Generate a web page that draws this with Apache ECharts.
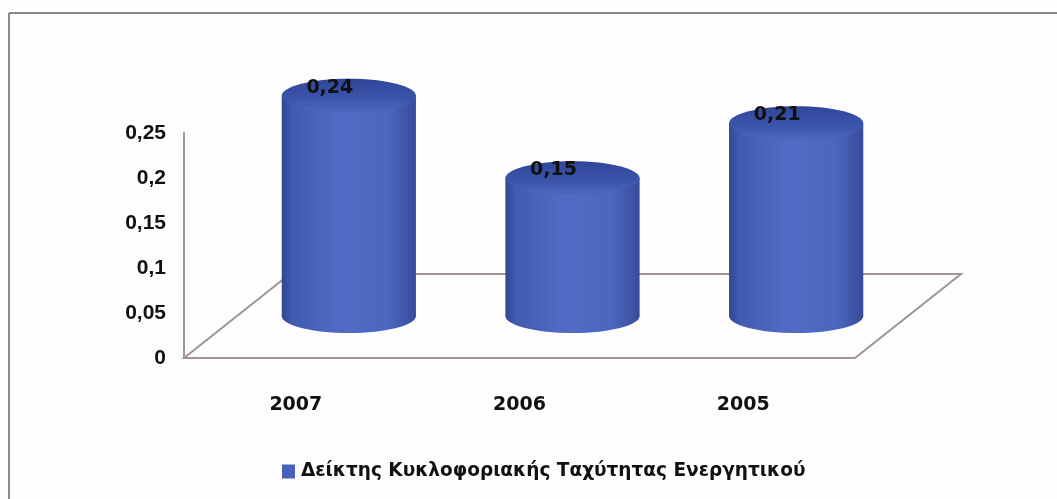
<!DOCTYPE html>
<html>
<head>
<meta charset="utf-8">
<script src="https://cdn.jsdelivr.net/npm/echarts/dist/echarts.min.js"></script>
<style>
  html, body { margin: 0; padding: 0; background: #fcfdfc; }
  #chart { width: 1057px; height: 499px; }
</style>
</head>
<body>
<div id="chart"></div>
<script>
// Asset turnover ratio by year
const years = ['2007', '2006', '2005'];
const turnover = [0.24, 0.15, 0.21];
const yTicks = [0, 0.05, 0.1, 0.15, 0.2, 0.25];
const seriesName = 'Δείκτης Κυκλοφοριακής Ταχύτητας Ενεργητικού';

// floor depth (screen offset of the back edge) and cylinder proportions
const DEPTH_X = 106, DEPTH_Y = -84;
const PERSPECTIVE = 1.02;   // mid-depth plane is slightly larger than the front plane
const BAR_RATIO = 0.6;      // cylinder diameter / category width
const ELLIPSE_RY = 17;

const comma = v => String(v).replace('.', ',');
const lineColor = '#a09494';
const wideFont = '"DejaVu Sans", Verdana, sans-serif';
const axisFont = '"Liberation Sans", Arial, sans-serif';

const chart = echarts.init(document.getElementById('chart'));

function renderFloor(params, api) {
  const cs = params.coordSys;
  const x0 = cs.x, x1 = cs.x + cs.width, yb = cs.y + cs.height;
  return {
    type: 'polygon',
    shape: { points: [[x0, yb], [x1, yb], [x1 + DEPTH_X, yb + DEPTH_Y], [x0 + DEPTH_X, yb + DEPTH_Y]] },
    style: { fill: 'rgba(255,255,255,0)', stroke: lineColor, lineWidth: 2 },
    silent: true
  };
}

function renderCylinder(params, api) {
  const idx = api.value(0);
  const val = api.value(1);
  const p0 = api.coord([idx, 0]);
  const pv = api.coord([idx, val]);
  const bw = api.size([1, 0])[0] * BAR_RATIO;
  const rx = bw / 2, ry = ELLIPSE_RY;
  const cx = p0[0] + DEPTH_X / 2;
  const botY = p0[1] + DEPTH_Y / 2;
  const topY = botY - (p0[1] - pv[1]) * PERSPECTIVE;

  const bodyFill = new echarts.graphic.LinearGradient(0, 0, 1, 0, [
    { offset: 0, color: '#33478f' },
    { offset: 0.08, color: '#425bb0' },
    { offset: 0.45, color: '#506cc4' },
    { offset: 0.8, color: '#4a66bd' },
    { offset: 1, color: '#374c9a' }
  ]);
  const topFill = new echarts.graphic.LinearGradient(0, 0, 0, 1, [
    { offset: 0, color: '#30469a' },
    { offset: 0.6, color: '#3c55ab' },
    { offset: 1, color: '#4d69c0' }
  ]);

  return {
    type: 'group',
    children: [
      { type: 'ellipse', shape: { cx: cx, cy: botY, rx: rx, ry: ry }, style: { fill: bodyFill } },
      { type: 'rect', shape: { x: cx - rx, y: topY, width: bw, height: botY - topY }, style: { fill: bodyFill } },
      { type: 'ellipse', shape: { cx: cx, cy: topY, rx: rx, ry: ry }, style: { fill: topFill } },
      {
        type: 'text',
        x: cx - 19, y: topY - 8,
        style: {
          text: comma(val),
          font: 'bold 19px ' + wideFont,
          fill: '#111',
          align: 'center',
          verticalAlign: 'middle'
        }
      }
    ]
  };
}

chart.setOption({
  backgroundColor: '#fcfdfc',
  animation: false,
  grid: { left: 184, right: 202, top: 133, bottom: 141 },
  xAxis: {
    type: 'category',
    data: years,
    axisLine: { show: false },
    axisTick: { show: false },
    axisLabel: {
      margin: 38,
      color: '#111',
      fontSize: 19,
      fontWeight: 'bold',
      fontFamily: wideFont
    }
  },
  yAxis: {
    type: 'value',
    min: yTicks[0],
    max: yTicks[yTicks.length - 1],
    interval: 0.05,
    splitLine: { show: false },
    axisTick: { show: false },
    axisLine: { show: true, lineStyle: { color: lineColor, width: 2 } },
    axisLabel: {
      margin: 18,
      color: '#111',
      fontSize: 21,
      fontWeight: 'bold',
      fontFamily: axisFont,
      formatter: v => comma(v)
    }
  },
  legend: {
    data: [seriesName],
    left: 277,
    top: 457,
    icon: 'rect',
    itemWidth: 13,
    itemHeight: 14,
    textStyle: {
      color: '#111',
      fontSize: 18.5,
      fontWeight: 'bold',
      fontFamily: wideFont,
      padding: [0, 0, 0, 1]
    }
  },
  graphic: [
    { type: 'line', shape: { x1: 9, y1: 13, x2: 1057, y2: 13 }, style: { stroke: '#8a8a8a', lineWidth: 2 }, silent: true },
    { type: 'line', shape: { x1: 9, y1: 13, x2: 9, y2: 499 }, style: { stroke: '#8a8a8a', lineWidth: 2 }, silent: true }
  ],
  series: [
    {
      type: 'custom',
      name: 'floor',
      data: [[0, 0]],
      renderItem: renderFloor,
      silent: true,
      z: 1
    },
    {
      type: 'custom',
      name: seriesName,
      itemStyle: { color: '#4862ba' },
      encode: { x: 0, y: 1 },
      data: turnover.map((v, i) => [i, v]),
      renderItem: renderCylinder,
      z: 2
    }
  ]
});
</script>
</body>
</html>
